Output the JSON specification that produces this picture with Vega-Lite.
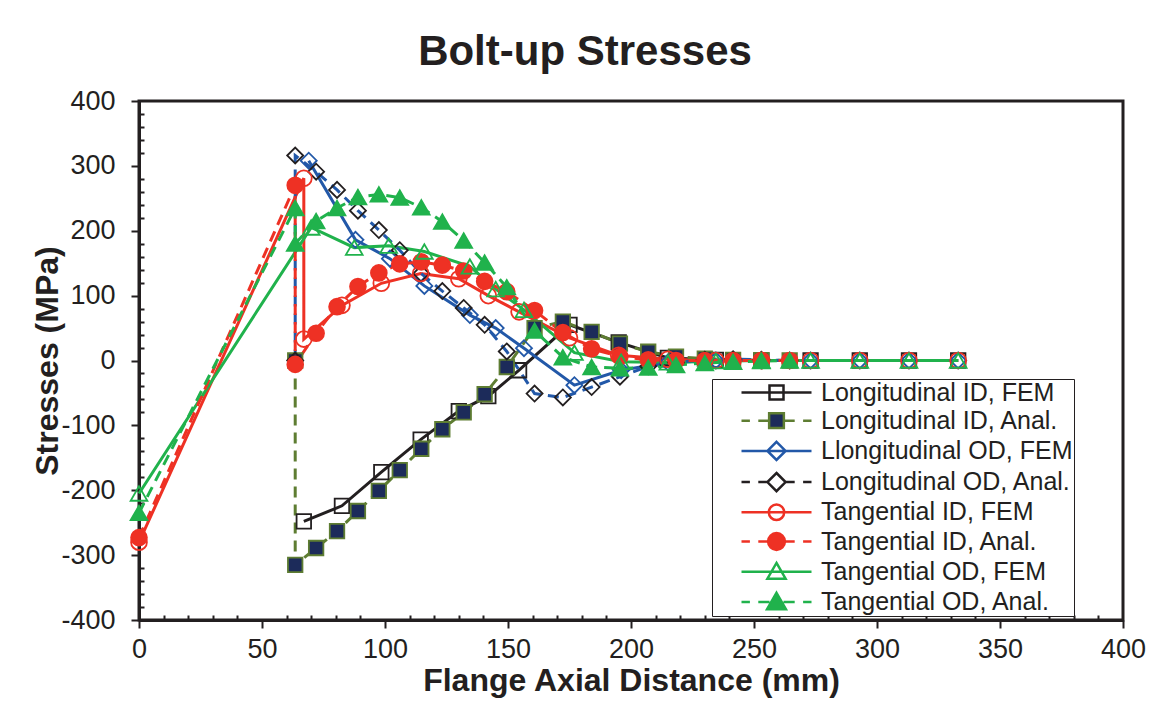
{
  "$schema": "https://vega.github.io/schema/vega-lite/v6.json",
  "width": 984,
  "height": 519,
  "autosize": {"type": "none"},
  "padding": {"left": 139, "top": 101, "right": 40, "bottom": 82},
  "background": "white",
  "title": {"text": "Bolt-up Stresses", "fontSize": 42, "fontWeight": "bold", "font": "Liberation Sans", "color": "#231f20", "anchor": "middle", "frame": "group", "dx": -46, "offset": 13},
  "config": {"view": {"stroke": "#231f20", "strokeWidth": 3}, "font": "Liberation Sans"},
  "data": {"values": [
    {"s": "Longitudinal ID, FEM", "x": 67, "y": -248},
    {"s": "Longitudinal ID, FEM", "x": 82.5, "y": -224},
    {"s": "Longitudinal ID, FEM", "x": 98.5, "y": -172},
    {"s": "Longitudinal ID, FEM", "x": 114.5, "y": -122},
    {"s": "Longitudinal ID, FEM", "x": 130, "y": -78},
    {"s": "Longitudinal ID, FEM", "x": 142, "y": -55},
    {"s": "Longitudinal ID, FEM", "x": 154.5, "y": -15},
    {"s": "Longitudinal ID, FEM", "x": 175, "y": 55},
    {"s": "Longitudinal ID, FEM", "x": 195, "y": 28},
    {"s": "Longitudinal ID, FEM", "x": 215, "y": 4},
    {"s": "Longitudinal ID, FEM", "x": 234.5, "y": 1},
    {"s": "Longitudinal ID, FEM", "x": 253, "y": 0},
    {"s": "Longitudinal ID, FEM", "x": 273, "y": 0},
    {"s": "Longitudinal ID, FEM", "x": 293, "y": 0},
    {"s": "Longitudinal ID, FEM", "x": 313, "y": 0},
    {"s": "Longitudinal ID, FEM", "x": 333, "y": 0},

    {"s": "Longitudinal ID, Anal.", "x": 63.5, "y": 0},
    {"s": "Longitudinal ID, Anal.", "x": 63.5, "y": -315},
    {"s": "Longitudinal ID, Anal.", "x": 72, "y": -289},
    {"s": "Longitudinal ID, Anal.", "x": 80.5, "y": -263},
    {"s": "Longitudinal ID, Anal.", "x": 89, "y": -232},
    {"s": "Longitudinal ID, Anal.", "x": 97.5, "y": -201},
    {"s": "Longitudinal ID, Anal.", "x": 106, "y": -169},
    {"s": "Longitudinal ID, Anal.", "x": 114.75, "y": -136},
    {"s": "Longitudinal ID, Anal.", "x": 123.3, "y": -106},
    {"s": "Longitudinal ID, Anal.", "x": 132, "y": -80},
    {"s": "Longitudinal ID, Anal.", "x": 140.5, "y": -52},
    {"s": "Longitudinal ID, Anal.", "x": 149.5, "y": -10},
    {"s": "Longitudinal ID, Anal.", "x": 160.8, "y": 50},
    {"s": "Longitudinal ID, Anal.", "x": 172.3, "y": 60},
    {"s": "Longitudinal ID, Anal.", "x": 184, "y": 44},
    {"s": "Longitudinal ID, Anal.", "x": 195.5, "y": 26},
    {"s": "Longitudinal ID, Anal.", "x": 207, "y": 13.5},
    {"s": "Longitudinal ID, Anal.", "x": 218.3, "y": 6},
    {"s": "Longitudinal ID, Anal.", "x": 230, "y": 3},
    {"s": "Longitudinal ID, Anal.", "x": 241.5, "y": 1},
    {"s": "Longitudinal ID, Anal.", "x": 253, "y": 0.5},
    {"s": "Longitudinal ID, Anal.", "x": 264.5, "y": 0},

    {"s": "Llongitudinal OD, FEM", "x": 69, "y": 308},
    {"s": "Llongitudinal OD, FEM", "x": 88, "y": 186},
    {"s": "Llongitudinal OD, FEM", "x": 102, "y": 157},
    {"s": "Llongitudinal OD, FEM", "x": 116, "y": 115},
    {"s": "Llongitudinal OD, FEM", "x": 134.5, "y": 70},
    {"s": "Llongitudinal OD, FEM", "x": 145, "y": 50},
    {"s": "Llongitudinal OD, FEM", "x": 156.5, "y": 19},
    {"s": "Llongitudinal OD, FEM", "x": 177, "y": -38},
    {"s": "Llongitudinal OD, FEM", "x": 196, "y": -15},
    {"s": "Llongitudinal OD, FEM", "x": 215, "y": -3},
    {"s": "Llongitudinal OD, FEM", "x": 234.5, "y": 0},
    {"s": "Llongitudinal OD, FEM", "x": 253, "y": 0},
    {"s": "Llongitudinal OD, FEM", "x": 273, "y": 0},
    {"s": "Llongitudinal OD, FEM", "x": 293, "y": 0},
    {"s": "Llongitudinal OD, FEM", "x": 313, "y": 0},
    {"s": "Llongitudinal OD, FEM", "x": 333, "y": 0},

    {"s": "Longitudinal OD, Anal.", "x": 63.5, "y": 0},
    {"s": "Longitudinal OD, Anal.", "x": 63.5, "y": 316},
    {"s": "Longitudinal OD, Anal.", "x": 72, "y": 291},
    {"s": "Longitudinal OD, Anal.", "x": 80.5, "y": 263},
    {"s": "Longitudinal OD, Anal.", "x": 89, "y": 231},
    {"s": "Longitudinal OD, Anal.", "x": 97.5, "y": 201},
    {"s": "Longitudinal OD, Anal.", "x": 106, "y": 170},
    {"s": "Longitudinal OD, Anal.", "x": 114.75, "y": 134},
    {"s": "Longitudinal OD, Anal.", "x": 123.3, "y": 107},
    {"s": "Longitudinal OD, Anal.", "x": 132, "y": 81},
    {"s": "Longitudinal OD, Anal.", "x": 140.5, "y": 55},
    {"s": "Longitudinal OD, Anal.", "x": 149.5, "y": 14},
    {"s": "Longitudinal OD, Anal.", "x": 160.8, "y": -51},
    {"s": "Longitudinal OD, Anal.", "x": 172.3, "y": -57},
    {"s": "Longitudinal OD, Anal.", "x": 184, "y": -41},
    {"s": "Longitudinal OD, Anal.", "x": 195.5, "y": -25},
    {"s": "Longitudinal OD, Anal.", "x": 207, "y": -9},
    {"s": "Longitudinal OD, Anal.", "x": 218.3, "y": -3},
    {"s": "Longitudinal OD, Anal.", "x": 230, "y": 1},
    {"s": "Longitudinal OD, Anal.", "x": 241.5, "y": 2},
    {"s": "Longitudinal OD, Anal.", "x": 253, "y": 1},
    {"s": "Longitudinal OD, Anal.", "x": 264.5, "y": 0},

    {"s": "Tangential ID, FEM", "x": 0, "y": -280},
    {"s": "Tangential ID, FEM", "x": 67, "y": 281},
    {"s": "Tangential ID, FEM", "x": 67, "y": 33},
    {"s": "Tangential ID, FEM", "x": 82.5, "y": 85},
    {"s": "Tangential ID, FEM", "x": 98.5, "y": 119},
    {"s": "Tangential ID, FEM", "x": 114.5, "y": 134},
    {"s": "Tangential ID, FEM", "x": 130, "y": 126},
    {"s": "Tangential ID, FEM", "x": 142, "y": 100},
    {"s": "Tangential ID, FEM", "x": 154.5, "y": 75},
    {"s": "Tangential ID, FEM", "x": 175, "y": 35},
    {"s": "Tangential ID, FEM", "x": 195, "y": 8},
    {"s": "Tangential ID, FEM", "x": 215, "y": 2},
    {"s": "Tangential ID, FEM", "x": 234.5, "y": 0},
    {"s": "Tangential ID, FEM", "x": 253, "y": 0},
    {"s": "Tangential ID, FEM", "x": 273, "y": 0},
    {"s": "Tangential ID, FEM", "x": 293, "y": 0},
    {"s": "Tangential ID, FEM", "x": 313, "y": 0},
    {"s": "Tangential ID, FEM", "x": 333, "y": 0},

    {"s": "Tangential ID, Anal.", "x": 0, "y": -273},
    {"s": "Tangential ID, Anal.", "x": 63.5, "y": 270},
    {"s": "Tangential ID, Anal.", "x": 63.5, "y": -6},
    {"s": "Tangential ID, Anal.", "x": 72, "y": 42},
    {"s": "Tangential ID, Anal.", "x": 80.5, "y": 83},
    {"s": "Tangential ID, Anal.", "x": 89, "y": 114},
    {"s": "Tangential ID, Anal.", "x": 97.5, "y": 135},
    {"s": "Tangential ID, Anal.", "x": 106, "y": 149},
    {"s": "Tangential ID, Anal.", "x": 114.75, "y": 152},
    {"s": "Tangential ID, Anal.", "x": 123.3, "y": 147},
    {"s": "Tangential ID, Anal.", "x": 132, "y": 138},
    {"s": "Tangential ID, Anal.", "x": 140.5, "y": 122},
    {"s": "Tangential ID, Anal.", "x": 149.5, "y": 106},
    {"s": "Tangential ID, Anal.", "x": 160.8, "y": 77},
    {"s": "Tangential ID, Anal.", "x": 172.3, "y": 43},
    {"s": "Tangential ID, Anal.", "x": 184, "y": 18},
    {"s": "Tangential ID, Anal.", "x": 195.5, "y": 6},
    {"s": "Tangential ID, Anal.", "x": 207, "y": 1},
    {"s": "Tangential ID, Anal.", "x": 218.3, "y": 0},
    {"s": "Tangential ID, Anal.", "x": 230, "y": 0},
    {"s": "Tangential ID, Anal.", "x": 241.5, "y": 0},
    {"s": "Tangential ID, Anal.", "x": 253, "y": 0},
    {"s": "Tangential ID, Anal.", "x": 264.5, "y": 0},

    {"s": "Tangential OD, FEM", "x": 0, "y": -205},
    {"s": "Tangential OD, FEM", "x": 70, "y": 205},
    {"s": "Tangential OD, FEM", "x": 87.5, "y": 174},
    {"s": "Tangential OD, FEM", "x": 101.5, "y": 177},
    {"s": "Tangential OD, FEM", "x": 116, "y": 168},
    {"s": "Tangential OD, FEM", "x": 134.5, "y": 145},
    {"s": "Tangential OD, FEM", "x": 145, "y": 110},
    {"s": "Tangential OD, FEM", "x": 156.5, "y": 78},
    {"s": "Tangential OD, FEM", "x": 177, "y": 12},
    {"s": "Tangential OD, FEM", "x": 196, "y": -2},
    {"s": "Tangential OD, FEM", "x": 215, "y": -3},
    {"s": "Tangential OD, FEM", "x": 234.5, "y": -1},
    {"s": "Tangential OD, FEM", "x": 253, "y": 0},
    {"s": "Tangential OD, FEM", "x": 273, "y": 0},
    {"s": "Tangential OD, FEM", "x": 293, "y": 0},
    {"s": "Tangential OD, FEM", "x": 313, "y": 0},
    {"s": "Tangential OD, FEM", "x": 333, "y": 0},

    {"s": "Tangential OD, Anal.", "x": 0, "y": -235},
    {"s": "Tangential OD, Anal.", "x": 63.5, "y": 235},
    {"s": "Tangential OD, Anal.", "x": 63.5, "y": 180},
    {"s": "Tangential OD, Anal.", "x": 72, "y": 215},
    {"s": "Tangential OD, Anal.", "x": 80.5, "y": 235},
    {"s": "Tangential OD, Anal.", "x": 89, "y": 252},
    {"s": "Tangential OD, Anal.", "x": 97.5, "y": 256},
    {"s": "Tangential OD, Anal.", "x": 106, "y": 251},
    {"s": "Tangential OD, Anal.", "x": 114.75, "y": 236},
    {"s": "Tangential OD, Anal.", "x": 123.3, "y": 214},
    {"s": "Tangential OD, Anal.", "x": 132, "y": 185},
    {"s": "Tangential OD, Anal.", "x": 140.5, "y": 151},
    {"s": "Tangential OD, Anal.", "x": 149.5, "y": 113},
    {"s": "Tangential OD, Anal.", "x": 160.8, "y": 46},
    {"s": "Tangential OD, Anal.", "x": 172.3, "y": 5},
    {"s": "Tangential OD, Anal.", "x": 184, "y": -10},
    {"s": "Tangential OD, Anal.", "x": 195.5, "y": -12},
    {"s": "Tangential OD, Anal.", "x": 207, "y": -11},
    {"s": "Tangential OD, Anal.", "x": 218.3, "y": -7},
    {"s": "Tangential OD, Anal.", "x": 230, "y": -4},
    {"s": "Tangential OD, Anal.", "x": 241.5, "y": -2},
    {"s": "Tangential OD, Anal.", "x": 253, "y": -1},
    {"s": "Tangential OD, Anal.", "x": 264.5, "y": 0}
  ]},
  "encoding": {
    "x": {"field": "x", "type": "quantitative", "title": "Flange Axial Distance (mm)",
      "scale": {"domain": [0, 400], "nice": false, "zero": false},
      "axis": {"values": [0,10,20,30,40,50,60,70,80,90,100,110,120,130,140,150,160,170,180,190,200,210,220,230,240,250,260,270,280,290,300,310,320,330,340,350,360,370,380,390,400],
        "labelExpr": "datum.value % 50 === 0 ? toString(datum.value) : ''",
        "tickSize": {"condition": {"test": "datum.value % 50 === 0", "value": 8}, "value": -5},
        "grid": false, "labelFlush": false, "labelOverlap": false,
        "domainColor": "#231f20", "domainWidth": 3, "tickColor": "#231f20", "tickWidth": 2,
        "labelFontSize": 27, "labelColor": "#231f20", "labelFont": "Liberation Sans", "labelPadding": 8,
        "titleFontSize": 32, "titleFontWeight": "bold", "titleColor": "#231f20", "titleFont": "Liberation Sans", "titlePadding": 3}},
    "y": {"field": "y", "type": "quantitative", "title": "Stresses (MPa)",
      "scale": {"domain": [-400, 400], "nice": false, "zero": false},
      "axis": {"values": [-400,-380,-360,-340,-320,-300,-280,-260,-240,-220,-200,-180,-160,-140,-120,-100,-80,-60,-40,-20,0,20,40,60,80,100,120,140,160,180,200,220,240,260,280,300,320,340,360,380,400],
        "labelExpr": "datum.value % 100 === 0 ? toString(datum.value) : ''",
        "tickSize": {"condition": {"test": "datum.value % 100 === 0", "value": 8}, "value": -5},
        "grid": false, "labelFlush": false, "labelOverlap": false,
        "domainColor": "#231f20", "domainWidth": 3, "tickColor": "#231f20", "tickWidth": 2,
        "labelFontSize": 27, "labelColor": "#231f20", "labelFont": "Liberation Sans", "labelPadding": 16,
        "titleFontSize": 32, "titleFontWeight": "bold", "titleColor": "#231f20", "titleFont": "Liberation Sans", "titlePadding": -4}}
  },
  "layer": [
    {
      "transform": [{"filter": {"field": "s", "oneOf": ["Longitudinal ID, FEM","Llongitudinal OD, FEM","Tangential ID, FEM","Tangential OD, FEM"]}}],
      "mark": {"type": "line", "strokeWidth": 3},
      "encoding": {
        "color": {"field": "s", "type": "nominal",
          "scale": {"domain": ["Longitudinal ID, FEM","Llongitudinal OD, FEM","Tangential ID, FEM","Tangential OD, FEM","Longitudinal ID, Anal.","Longitudinal OD, Anal.","Tangential ID, Anal.","Tangential OD, Anal."],
                    "range": ["#231f20","#2258a8","#ee3124","#20b24c","#5e7d32","#2258a8","#ee3124","#20b24c"]},
          "legend": null},
        "order": {"value": null}
      }
    },
    {
      "transform": [{"filter": {"field": "s", "oneOf": ["Longitudinal ID, Anal.","Longitudinal OD, Anal.","Tangential ID, Anal.","Tangential OD, Anal."]}}],
      "mark": {"type": "line", "strokeWidth": 3, "strokeDash": [11, 7]},
      "encoding": {
        "color": {"field": "s", "type": "nominal",
          "scale": {"domain": ["Longitudinal ID, FEM","Llongitudinal OD, FEM","Tangential ID, FEM","Tangential OD, FEM","Longitudinal ID, Anal.","Longitudinal OD, Anal.","Tangential ID, Anal.","Tangential OD, Anal."],
                    "range": ["#231f20","#2258a8","#ee3124","#20b24c","#5e7d32","#2258a8","#ee3124","#20b24c"]},
          "legend": null},
        "order": {"value": null}
      }
    },
    {
      "transform": [{"filter": {"field": "s", "oneOf": ["Longitudinal ID, FEM","Longitudinal ID, Anal."]}}],
      "mark": {"type": "point", "shape": "square", "size": 210, "filled": true, "opacity": 1, "strokeWidth": 1.8},
      "encoding": {
        "fill": {"field": "s", "type": "nominal",
          "scale": {"domain": ["Longitudinal ID, FEM","Longitudinal ID, Anal.","Llongitudinal OD, FEM","Longitudinal OD, Anal.","Tangential ID, FEM","Tangential ID, Anal.","Tangential OD, FEM","Tangential OD, Anal."],
                    "range": ["transparent","#1c2b5a","transparent","transparent","transparent","#ee3124","transparent","#20b24c"]}},
        "stroke": {"field": "s", "type": "nominal",
          "scale": {"domain": ["Longitudinal ID, FEM","Longitudinal ID, Anal.","Llongitudinal OD, FEM","Longitudinal OD, Anal.","Tangential ID, FEM","Tangential ID, Anal.","Tangential OD, FEM","Tangential OD, Anal."],
                    "range": ["#231f20","#5e7d32","#2258a8","#231f20","#ee3124","#ee3124","#20b24c","#20b24c"]}}
      }
    },
    {
      "transform": [{"filter": {"field": "s", "oneOf": ["Llongitudinal OD, FEM","Longitudinal OD, Anal."]}}],
      "mark": {"type": "point", "shape": "diamond", "size": 256, "filled": true, "opacity": 1, "strokeWidth": 1.8},
      "encoding": {
        "fill": {"field": "s", "type": "nominal",
          "scale": {"domain": ["Longitudinal ID, FEM","Longitudinal ID, Anal.","Llongitudinal OD, FEM","Longitudinal OD, Anal.","Tangential ID, FEM","Tangential ID, Anal.","Tangential OD, FEM","Tangential OD, Anal."],
                    "range": ["transparent","#1c2b5a","transparent","transparent","transparent","#ee3124","transparent","#20b24c"]}},
        "stroke": {"field": "s", "type": "nominal",
          "scale": {"domain": ["Longitudinal ID, FEM","Longitudinal ID, Anal.","Llongitudinal OD, FEM","Longitudinal OD, Anal.","Tangential ID, FEM","Tangential ID, Anal.","Tangential OD, FEM","Tangential OD, Anal."],
                    "range": ["#231f20","#5e7d32","#2258a8","#231f20","#ee3124","#ee3124","#20b24c","#20b24c"]}}
      }
    },
    {
      "transform": [{"filter": {"field": "s", "oneOf": ["Tangential ID, FEM","Tangential ID, Anal."]}}],
      "mark": {"type": "point", "shape": "circle", "size": 250, "filled": true, "opacity": 1, "strokeWidth": 1.8},
      "encoding": {
        "fill": {"field": "s", "type": "nominal",
          "scale": {"domain": ["Longitudinal ID, FEM","Longitudinal ID, Anal.","Llongitudinal OD, FEM","Longitudinal OD, Anal.","Tangential ID, FEM","Tangential ID, Anal.","Tangential OD, FEM","Tangential OD, Anal."],
                    "range": ["transparent","#1c2b5a","transparent","transparent","transparent","#ee3124","transparent","#20b24c"]}},
        "stroke": {"field": "s", "type": "nominal",
          "scale": {"domain": ["Longitudinal ID, FEM","Longitudinal ID, Anal.","Llongitudinal OD, FEM","Longitudinal OD, Anal.","Tangential ID, FEM","Tangential ID, Anal.","Tangential OD, FEM","Tangential OD, Anal."],
                    "range": ["#231f20","#5e7d32","#2258a8","#231f20","#ee3124","#ee3124","#20b24c","#20b24c"]}}
      }
    },
    {
      "transform": [{"filter": {"field": "s", "oneOf": ["Tangential OD, FEM","Tangential OD, Anal."]}}],
      "mark": {"type": "point", "shape": "triangle-up", "size": 280, "filled": true, "opacity": 1, "strokeWidth": 1.8},
      "encoding": {
        "fill": {"field": "s", "type": "nominal",
          "scale": {"domain": ["Longitudinal ID, FEM","Longitudinal ID, Anal.","Llongitudinal OD, FEM","Longitudinal OD, Anal.","Tangential ID, FEM","Tangential ID, Anal.","Tangential OD, FEM","Tangential OD, Anal."],
                    "range": ["transparent","#1c2b5a","transparent","transparent","transparent","#ee3124","transparent","#20b24c"]}},
        "stroke": {"field": "s", "type": "nominal",
          "scale": {"domain": ["Longitudinal ID, FEM","Longitudinal ID, Anal.","Llongitudinal OD, FEM","Longitudinal OD, Anal.","Tangential ID, FEM","Tangential ID, Anal.","Tangential OD, FEM","Tangential OD, Anal."],
                    "range": ["#231f20","#5e7d32","#2258a8","#231f20","#ee3124","#ee3124","#20b24c","#20b24c"]}}
      }
    },
    {
      "transform": [{"filter": "false"}],
      "mark": {"type": "point", "filled": true, "opacity": 1, "strokeWidth": 2.5},
      "encoding": {
        "shape": {"field": "s", "type": "nominal",
          "scale": {"domain": ["Longitudinal ID, FEM","Longitudinal ID, Anal.","Llongitudinal OD, FEM","Longitudinal OD, Anal.","Tangential ID, FEM","Tangential ID, Anal.","Tangential OD, FEM","Tangential OD, Anal."],
                    "range": ["M-5,0H5M-1,-1H1V1H-1Z",
                              "M-5,0H-3.8M-2.6,0H-1M1,0H2.6M3.8,0H5M-1.05,-1.05H1.05V1.05H-1.05Z",
                              "M-5,0H5M0,-1.3L1.3,0L0,1.3L-1.3,0Z",
                              "M-5,0H-3.8M-2.6,0H-1.3M1.3,0H2.6M3.8,0H5M0,-1.3L1.3,0L0,1.3L-1.3,0Z",
                              "M-5,0H5M-1.1,0A1.1,1.1,0,1,0,1.1,0A1.1,1.1,0,1,0,-1.1,0Z",
                              "M-5,0H-3.8M-2.6,0H-1M1,0H2.6M3.8,0H5M-1.2,0A1.2,1.2,0,1,0,1.2,0A1.2,1.2,0,1,0,-1.2,0Z",
                              "M-5,0H5M0,-1.25L1.3,1H-1.3Z",
                              "M-5,0H-3.8M-2.6,0H-1M1,0H2.6M3.8,0H5M0,-1.3L1.35,1.05H-1.35Z"]},
          "legend": {"orient": "none", "legendX": 573, "legendY": 278, "title": null,
            "strokeColor": "#231f20", "fillColor": "white", "padding": 1,
            "labelFontSize": 25, "labelFont": "Liberation Sans", "labelColor": "#231f20", "labelLimit": 600,
            "labelExpr": "datum.label + '\u00a0\u00a0\u00a0\u00a0\u00a0'",
            "symbolSize": 196, "symbolStrokeWidth": 2.5, "symbolOffset": 51, "labelOffset": 32, "rowPadding": 2.2}},
        "fill": {"field": "s", "type": "nominal",
          "scale": {"domain": ["Longitudinal ID, FEM","Longitudinal ID, Anal.","Llongitudinal OD, FEM","Longitudinal OD, Anal.","Tangential ID, FEM","Tangential ID, Anal.","Tangential OD, FEM","Tangential OD, Anal."],
                    "range": ["transparent","#1c2b5a","transparent","transparent","transparent","#ee3124","transparent","#20b24c"]},
          "legend": {"orient": "none", "legendX": 573, "legendY": 278, "title": null,
            "strokeColor": "#231f20", "fillColor": "white", "padding": 1,
            "labelFontSize": 25, "labelFont": "Liberation Sans", "labelColor": "#231f20", "labelLimit": 600,
            "labelExpr": "datum.label + '\u00a0\u00a0\u00a0\u00a0\u00a0'",
            "symbolSize": 196, "symbolStrokeWidth": 2.5, "symbolOffset": 51, "labelOffset": 32, "rowPadding": 2.2}},
        "stroke": {"field": "s", "type": "nominal",
          "scale": {"domain": ["Longitudinal ID, FEM","Longitudinal ID, Anal.","Llongitudinal OD, FEM","Longitudinal OD, Anal.","Tangential ID, FEM","Tangential ID, Anal.","Tangential OD, FEM","Tangential OD, Anal."],
                    "range": ["#231f20","#5e7d32","#2258a8","#231f20","#ee3124","#ee3124","#20b24c","#20b24c"]},
          "legend": {"orient": "none", "legendX": 573, "legendY": 278, "title": null,
            "strokeColor": "#231f20", "fillColor": "white", "padding": 1,
            "labelFontSize": 25, "labelFont": "Liberation Sans", "labelColor": "#231f20", "labelLimit": 600,
            "labelExpr": "datum.label + '\u00a0\u00a0\u00a0\u00a0\u00a0'",
            "symbolSize": 196, "symbolStrokeWidth": 2.5, "symbolOffset": 51, "labelOffset": 32, "rowPadding": 2.2}}
      }
    }
  ]
}
